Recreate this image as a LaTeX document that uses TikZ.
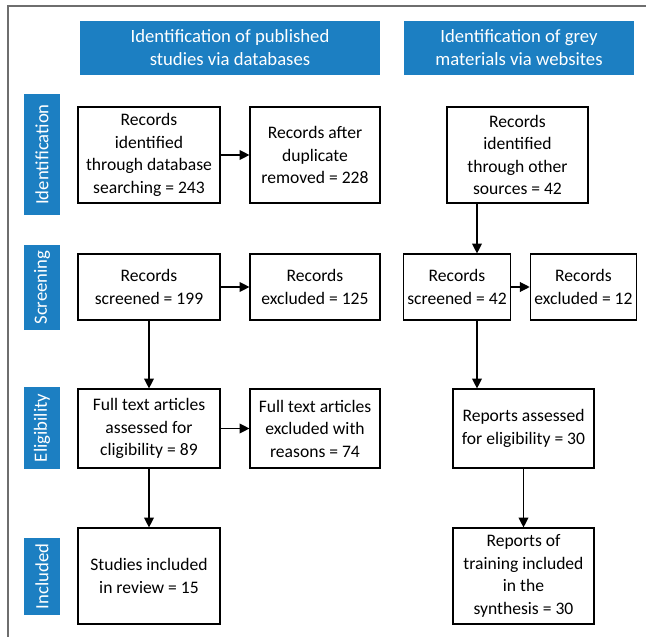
\documentclass[tikz,border=0pt]{standalone}
\usepackage{fontspec}
\setmainfont{Carlito}
\usepackage{xcolor}
\definecolor{phaseblue}{RGB}{28,127,194}
\definecolor{framegrey}{RGB}{110,110,110}
\usepackage{tikz}
\usetikzlibrary{arrows.meta}
\newcommand{\widthleft}{3.55cm}
\newcommand{\widthmid}{3.25cm}
\newcommand{\widthright}{3.525cm}
\newcommand{\widthsmall}{2.66cm}
\newcommand{\boxfont}{\fontsize{12.5}{16}\selectfont}
\newcommand{\bandfont}{\fontsize{13.3}{16.3}\selectfont}
\tikzset{
    common/.style={draw, rectangle, align=center, inner sep=1pt, line width=0.8pt, font=\boxfont},
    rec/.style={common, minimum width=\widthleft},
    header/.style={rectangle, fill=phaseblue, text=white, align=center, minimum height=1.35cm, font=\bandfont},
    phase/.style={rectangle, fill=phaseblue, text=white, rotate=90, minimum height=0.9cm, inner sep=1pt, font=\bandfont},
    flow/.style={-{Triangle[length=7pt, width=7pt]}, line width=0.8pt}
}
\begin{document}
\begin{tikzpicture}[x=0.025cm, y=-0.025cm]
              \useasboundingbox (0,0) rectangle (646,637);
              \draw[framegrey, line width=1.1pt] (8,637) -- (8,6) -- (646,6);

              % headers
              \node[header, minimum width=7.5cm] (head-db) at (230,48) {Identification of published\\studies via databases};
              \node[header, minimum width=5.75cm] (head-web) at (519,48) {Identification of grey\\materials via websites};

              % phases
              \node[phase, minimum width=3.025cm] (ph-ident) at (42,154.5) {Identification};
              \node[phase, minimum width=2.125cm] (ph-screen) at (42,287.5) {Screening};
              \node[phase, minimum width=2.05cm] (ph-elig) at (42,428) {Eligibility};
              \node[phase, minimum width=1.925cm] (ph-incl) at (42,576.5) {Included};

              % databases
              \node[rec, minimum height=2.4cm] (a1) at (149,155) {Records\\identified\\through database\\searching = 243};
              \node[rec, minimum width=\widthmid, minimum height=2.4cm] (a2) at (315,155) {Records after\\duplicate\\removed = 228};
              \node[rec, minimum height=1.65cm] (a3) at (149,287) {Records\\screened = 199};
              \node[rec, minimum width=\widthmid, minimum height=1.65cm] (a4) at (315,287) {Records\\excluded = 125};
              \node[rec, minimum height=1.975cm] (a5) at (149,428.5) {Full text articles\\assessed for\\cligibility = 89};
              \node[rec, minimum width=\widthmid, minimum height=1.975cm] (a6) at (315,428.5) {Full text articles\\excluded with\\reasons = 74};
              \node[rec, minimum height=2.4cm] (a7) at (149,576) {Studies included\\in review = 15};

              % websites
              \node[rec, minimum width=\widthright, minimum height=2.4cm] (c1) at (517.5,155) {Records\\identified\\through other\\sources = 42};
              \node[rec, minimum width=\widthsmall, minimum height=1.65cm] (c2) at (457,287) {Records\\screened = 42};
              \node[rec, minimum width=\widthsmall, minimum height=1.65cm] (c3) at (583.5,287) {Records\\excluded = 12};
              \node[rec, minimum width=\widthright, minimum height=1.975cm] (c4) at (523.5,428.5) {Reports assessed\\for eligibility = 30};
              \node[rec, minimum width=\widthright, minimum height=2.4cm] (c5) at (523.5,576) {Reports of\\training included\\in the\\synthesis = 30};
              \coordinate (c-line) at (477,287);

              \draw[flow] (a1) -- (a2);
              \draw[flow] (a3) -- (a4);
              \draw[flow] (a5) -- (a6);
              \draw[flow] (a3) -- (a5);
              \draw[flow] (a5) -- (a7);

              \draw[flow] (c-line |- c1.south) -- (c-line |- c2.north);
              \draw[flow] (c2) -- (c3);
              \draw[flow] (c-line |- c2.south) -- (c-line |- c4.north);
              \draw[flow] (c4) -- (c5);
\end{tikzpicture}
\end{document}
